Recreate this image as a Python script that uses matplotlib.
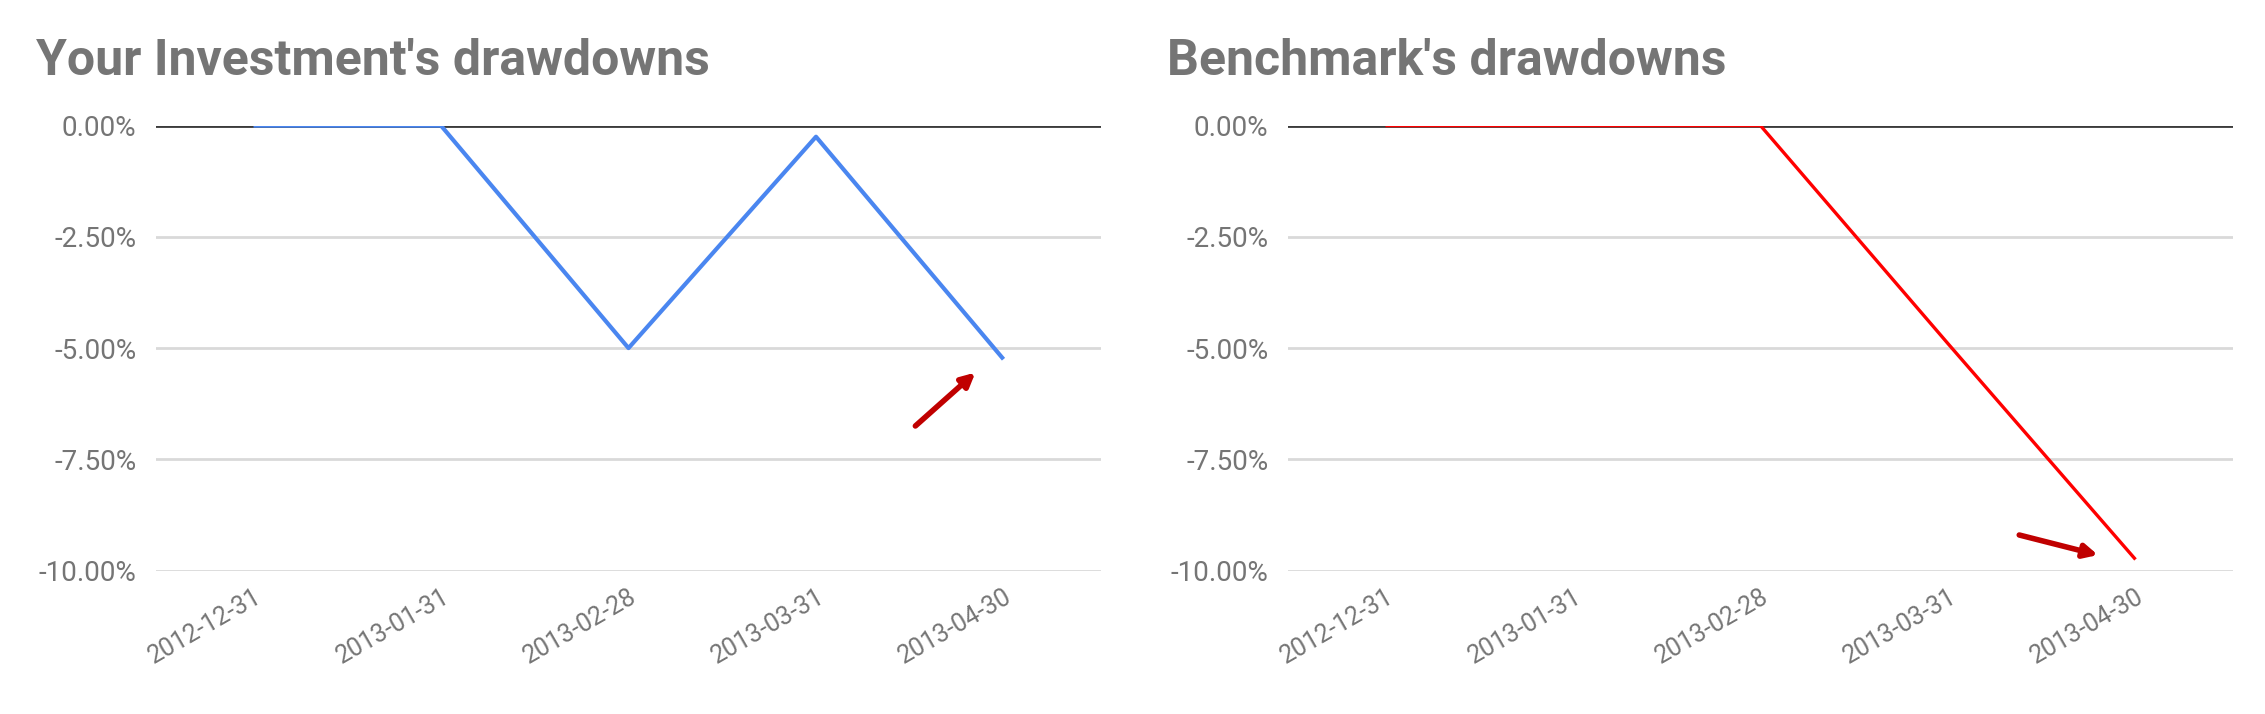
import matplotlib
matplotlib.use("Agg")
import matplotlib.pyplot as plt
from matplotlib.ticker import FuncFormatter

plt.rcParams['font.family'] = ['Roboto', 'DejaVu Sans']

dates = ['2012-12-31', '2013-01-31', '2013-02-28', '2013-03-31', '2013-04-30']
investment_dd = [0.0, 0.0, -5.0, -0.25, -5.25]   # in %
benchmark_dd = [0.0, 0.0, 0.0, -4.9, -9.75]      # in %
y_ticks = [0, -2.5, -5, -7.5, -10]

W, H = 2265, 714
fig = plt.figure(figsize=(W / 100, H / 100), dpi=100)

grey = '#757575'
panels = [
    ("Your Investment's drawdowns", investment_dd, '#4a86f0', 3.0, 156, 36,
     (3.53, -6.75), (3.85, -5.55)),
    ("Benchmark's drawdowns", benchmark_dd, '#ff0000', 2.4, 1288, 1167,
     (3.38, -9.2), (3.8, -9.65)),
]

for title, values, color, lw, left_px, title_px, a_from, a_to in panels:
    ax = fig.add_axes([left_px / W, 143.4 / H, 945 / W, 445 / H])
    x = range(len(dates))
    ax.plot(x, values, color=color, lw=lw, zorder=3, solid_capstyle='butt')
    ax.set_xlim(-0.52, len(dates) - 0.48)
    ax.set_ylim(-10, 0)
    ax.set_yticks(y_ticks)
    ax.yaxis.set_major_formatter(FuncFormatter(lambda v, p: f"{v:.2f}%"))
    ax.set_xticks(list(x))
    ax.set_xticklabels(dates, rotation=30, ha='right', rotation_mode='anchor')
    ax.grid(axis='y', color='#d9d9d9', lw=2.0, zorder=0)
    ax.axhline(0, color='#3c3c3c', lw=2.0, zorder=2)
    for s in ax.spines.values():
        s.set_visible(False)
    ax.tick_params(axis='both', length=0, labelcolor=grey)
    ax.tick_params(axis='y', pad=14, labelsize=20)
    ax.tick_params(axis='x', pad=10, labelsize=18)
    ax.annotate('', xy=a_to, xytext=a_from,
                arrowprops=dict(arrowstyle='-|>,head_length=0.8,head_width=0.4',
                                color='#c00000', lw=4, shrinkA=0, shrinkB=0))
    fig.text(title_px / W, 1 - 75 / H, title, fontsize=36, fontweight='bold',
             color=grey, ha='left', va='baseline')

fig.savefig('out.png', dpi=100, facecolor='white')
